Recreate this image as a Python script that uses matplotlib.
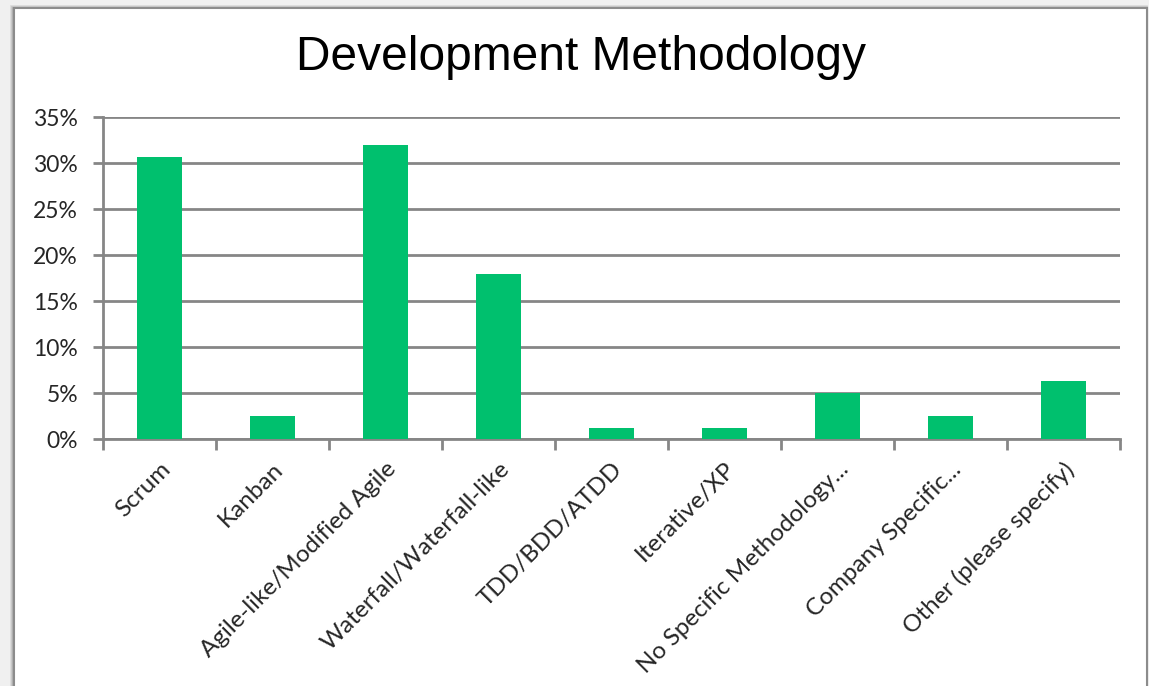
from matplotlib import pyplot as plt
from matplotlib.patches import Rectangle
from matplotlib.ticker import FixedLocator, PercentFormatter
import numpy as np

categories = ["Scrum", "Kanban", "Agile-like/Modified Agile", "Waterfall/Waterfall-like",
              "TDD/BDD/ATDD", "Iterative/XP", "No Specific Methodology...",
              "Company Specific...", "Other (please specify)"]
shares = [30.7, 2.5, 32.0, 17.9, 1.2, 1.2, 5.0, 2.5, 6.3]
y_ticks = [0, 5, 10, 15, 20, 25, 30, 35]

W, H = 1149, 686
fig = plt.figure(figsize=(W / 100, H / 100), dpi=100)
fig.patch.set_facecolor("#f0f0f0")

# chart frame with a bit of shadow
for i, c in enumerate(["#d8d8d8", "#c4c4c4", "#acacac"]):
    fig.patches.append(Rectangle(((11 + i) / W, 0), (1136 - i) / W, (H - 6 - i) / H,
                                 transform=fig.transFigure, facecolor="none",
                                 edgecolor=c, lw=1.2, zorder=-3))
fig.patches.append(Rectangle((14 / W, -0.01), 1133 / W, (H - 8) / H + 0.01,
                             transform=fig.transFigure, facecolor="white",
                             edgecolor="#8c8c8c", lw=1.5, zorder=-2))

fig.text(581 / W, 1 - 58 / H, "Development Methodology", ha="center", va="center",
         fontsize=34.5, family="Liberation Sans")

ax = fig.add_axes([103 / W, 1 - 439 / H, (1120 - 103) / W, (439 - 117) / H])
ax.set_facecolor("none")
x = np.arange(len(categories))
ax.bar(x, shares, width=0.4, color="#00c06e", zorder=3)

ax.set_xlim(-0.5, len(categories) - 0.5)
ax.set_ylim(0, 35)
ax.yaxis.set_major_locator(FixedLocator(y_ticks))
ax.yaxis.set_major_formatter(PercentFormatter(decimals=0))
ax.grid(axis="y", color="#868686", lw=2, zorder=0)

ax.set_xticks(np.arange(len(categories) + 1) - 0.5)
ax.set_xticklabels([])
ax.set_xticks(x, minor=True)
ax.set_xticklabels(categories, minor=True, rotation=45, ha="right",
                   rotation_mode="anchor", fontsize=17.5, family="Lato",
                   color="#262626")
ax.tick_params(axis="x", which="minor", length=0, pad=14)
ax.tick_params(axis="x", which="major", length=8, width=2, color="#868686")
ax.tick_params(axis="y", length=7, width=2, color="#868686", labelsize=16.5, pad=11,
               labelcolor="#262626")
for lab in ax.get_yticklabels():
    lab.set_family("Lato")

for s in ["top", "right"]:
    ax.spines[s].set_visible(False)
for s in ["left", "bottom"]:
    ax.spines[s].set_color("#868686")
    ax.spines[s].set_linewidth(2)

fig.savefig("out.png", dpi=100, facecolor=fig.get_facecolor())
